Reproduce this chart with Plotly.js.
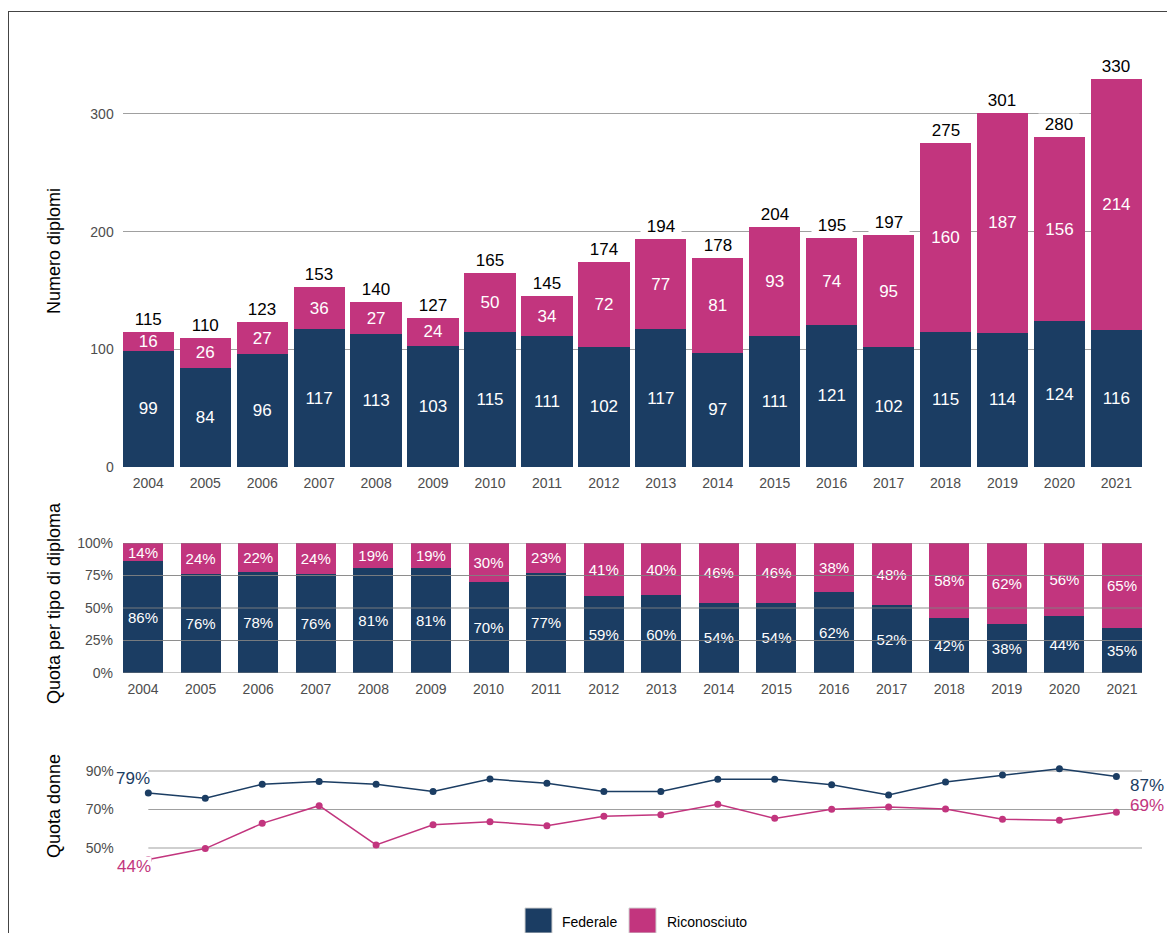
<!DOCTYPE html>
<html>
<head>
<meta charset="utf-8">
<script src="https://cdn.plot.ly/plotly-3.0.1.min.js"></script>
<style>
  html, body { margin: 0; padding: 0; background: #fff; }
  #chart { width: 1167px; height: 933px; }
</style>
</head>
<body>
<div id="chart"></div>
<script>
const years = [2004, 2005, 2006, 2007, 2008, 2009, 2010, 2011, 2012, 2013, 2014, 2015, 2016, 2017, 2018, 2019, 2020, 2021];
const federale = [99, 84, 96, 117, 113, 103, 115, 111, 102, 117, 97, 111, 121, 102, 115, 114, 124, 116];
const riconosciuto = [16, 26, 27, 36, 27, 24, 50, 34, 72, 77, 81, 93, 74, 95, 160, 187, 156, 214];
const totali = [115, 110, 123, 153, 140, 127, 165, 145, 174, 194, 178, 204, 195, 197, 275, 301, 280, 330];
const quotaFederale = [86, 76, 78, 76, 81, 81, 70, 77, 59, 60, 54, 54, 62, 52, 42, 38, 44, 35];
const quotaRiconosciuto = [14, 24, 22, 24, 19, 19, 30, 23, 41, 40, 46, 46, 38, 48, 58, 62, 56, 65];
const donneFederale = [78.6, 75.8, 83.1, 84.5, 83.1, 79.4, 85.8, 83.6, 79.4, 79.4, 85.7, 85.7, 82.9, 77.6, 84.3, 87.9, 91.2, 87.1];
const donneRiconosciuto = [44.0, 49.7, 62.8, 72.0, 51.6, 62.1, 63.7, 61.6, 66.5, 67.3, 72.7, 65.4, 70.1, 71.3, 70.3, 64.9, 64.4, 68.6];
const seriesNames = ['Federale', 'Riconosciuto'];
const yTitles = ['Numero diplomi', 'Quota per tipo di diploma', 'Quota donne'];
const ticksTop = [0, 100, 200, 300];
const ticksQuota = [0, 25, 50, 75, 100];
const ticksDonne = [50, 70, 90];

const BLUE = '#1b3d63';
const PINK = '#c2357e';
const FONT = 'Liberation Sans, Arial, sans-serif';
const W = 1167, H = 933;
const px = v => v / W;
const py = v => (H - v) / H;

const traces = [
  {
    type: 'bar', x: years, y: federale, name: seriesNames[0], xaxis: 'x', yaxis: 'y',
    width: 0.9, marker: { color: BLUE, line: { width: 0 } },
    text: federale.map(String), textposition: 'inside', insidetextanchor: 'middle',
    constraintext: 'none', textangle: 0,
    textfont: { color: '#ffffff', size: 17, family: FONT }, hoverinfo: 'skip'
  },
  {
    type: 'bar', x: years, y: riconosciuto, name: seriesNames[1], xaxis: 'x', yaxis: 'y',
    width: 0.9, marker: { color: PINK, line: { width: 0 } },
    text: riconosciuto.map(String), textposition: 'inside', insidetextanchor: 'middle',
    constraintext: 'none', textangle: 0,
    textfont: { color: '#ffffff', size: 17, family: FONT }, hoverinfo: 'skip'
  },
  {
    type: 'bar', x: years, y: quotaFederale, name: seriesNames[0], xaxis: 'x2', yaxis: 'y2',
    width: 0.695, marker: { color: BLUE, line: { width: 0 } },
    text: quotaFederale.map(v => v + '%'), textposition: 'inside', insidetextanchor: 'middle',
    constraintext: 'none', textangle: 0,
    textfont: { color: '#ffffff', size: 15, family: FONT }, hoverinfo: 'skip'
  },
  {
    type: 'bar', x: years, y: quotaRiconosciuto, name: seriesNames[1], xaxis: 'x2', yaxis: 'y2',
    width: 0.695, marker: { color: PINK, line: { width: 0 } },
    text: quotaRiconosciuto.map(v => v + '%'), textposition: 'inside', insidetextanchor: 'middle',
    constraintext: 'none', textangle: 0,
    textfont: { color: '#ffffff', size: 15, family: FONT }, hoverinfo: 'skip'
  },
  {
    type: 'scatter', mode: 'lines+markers', x: years, y: donneFederale, name: seriesNames[0],
    xaxis: 'x3', yaxis: 'y3', line: { color: BLUE, width: 1.5 },
    marker: { color: BLUE, size: 7 }, cliponaxis: false, hoverinfo: 'skip'
  },
  {
    type: 'scatter', mode: 'lines+markers', x: years, y: donneRiconosciuto, name: seriesNames[1],
    xaxis: 'x3', yaxis: 'y3', line: { color: PINK, width: 1.5 },
    marker: { color: PINK, size: 7 }, cliponaxis: false, hoverinfo: 'skip'
  }
];

const tickFont = { family: FONT, size: 14, color: '#4d4d4d' };
const xBase = {
  tickmode: 'array', tickvals: years, ticktext: years.map(String),
  showgrid: false, zeroline: false, showline: false, ticks: '',
  tickfont: tickFont, ticklabelstandoff: 6, fixedrange: true
};

const annotations = [];
years.forEach((yr, i) => {
  annotations.push({
    x: yr, y: totali[i], xref: 'x', yref: 'y',
    text: '\u00a0' + totali[i] + '\u00a0', showarrow: false,
    yanchor: 'bottom', xanchor: 'center', yshift: 1,
    bgcolor: '#ffffff', borderpad: 1,
    font: { family: FONT, size: 17, color: '#000000' }
  });
});
const n = years.length - 1;
annotations.push(
  { x: years[0], y: donneFederale[0], xref: 'x3', yref: 'y3', text: Math.round(donneFederale[0]) + '%',
    showarrow: false, xanchor: 'right', yanchor: 'middle', xshift: 4, yshift: 14,
    font: { family: FONT, size: 17, color: BLUE } },
  { x: years[0], y: donneRiconosciuto[0], xref: 'x3', yref: 'y3', text: Math.round(donneRiconosciuto[0]) + '%',
    showarrow: false, xanchor: 'right', yanchor: 'middle', xshift: 4, yshift: -7, bgcolor: '#ffffff', borderpad: 0,
    font: { family: FONT, size: 17, color: PINK } },
  { x: years[n], y: donneFederale[n], xref: 'x3', yref: 'y3', text: Math.round(donneFederale[n]) + '%',
    showarrow: false, xanchor: 'left', yanchor: 'middle', xshift: 12, yshift: -9,
    font: { family: FONT, size: 17, color: BLUE } },
  { x: years[n], y: donneRiconosciuto[n], xref: 'x3', yref: 'y3', text: Math.round(donneRiconosciuto[n]) + '%',
    showarrow: false, xanchor: 'left', yanchor: 'middle', xshift: 12, yshift: 7,
    font: { family: FONT, size: 17, color: PINK } }
);
[[yTitles[0], 251], [yTitles[1], 603], [yTitles[2], 806]].forEach(([t, yc]) => {
  annotations.push({
    xref: 'paper', yref: 'paper', x: px(54), y: py(yc), text: t, textangle: -90,
    showarrow: false, xanchor: 'center', yanchor: 'middle',
    font: { family: FONT, size: 18, color: '#000000' }
  });
});
annotations.push(
  { xref: 'paper', yref: 'paper', x: px(560), y: py(922), text: seriesNames[0], showarrow: false,
    xanchor: 'left', yanchor: 'middle', font: { family: FONT, size: 14, color: '#000000' } },
  { xref: 'paper', yref: 'paper', x: px(665), y: py(922), text: seriesNames[1], showarrow: false,
    xanchor: 'left', yanchor: 'middle', font: { family: FONT, size: 14, color: '#000000' } }
);

const shapes = [];
shapes.push(
  { type: 'line', xref: 'paper', yref: 'paper', x0: px(8), x1: 1, y0: py(11.5), y1: py(11.5), line: { color: '#444', width: 1 } },
  { type: 'line', xref: 'paper', yref: 'paper', x0: px(8.5), x1: px(8.5), y0: py(11.5), y1: 0, line: { color: '#444', width: 1 } }
);
ticksQuota.forEach(v => {
  shapes.push({ type: 'line', xref: 'x2 domain', yref: 'y2', x0: 0, x1: 1, y0: v, y1: v,
    layer: 'above', line: { color: 'rgba(130,130,130,0.9)', width: 1 } });
});
ticksDonne.forEach(v => {
  shapes.push({ type: 'line', xref: 'x3', yref: 'y3', x0: years[0], x1: years[n] + 0.5, y0: v, y1: v,
    layer: 'below', line: { color: '#a0a0a0', width: 1.2 } });
});
shapes.push(
  { type: 'rect', xref: 'paper', yref: 'paper', x0: px(525), x1: px(552), y0: 0, y1: py(908),
    fillcolor: BLUE, line: { color: '#d0d0d0', width: 1 } },
  { type: 'rect', xref: 'paper', yref: 'paper', x0: px(629), x1: px(656), y0: 0, y1: py(908),
    fillcolor: PINK, line: { color: '#d0d0d0', width: 1 } }
);

const layout = {
  width: W, height: H,
  margin: { l: 0, r: 0, t: 0, b: 0 },
  paper_bgcolor: '#ffffff', plot_bgcolor: '#ffffff',
  barmode: 'stack', showlegend: false,
  font: { family: FONT },
  xaxis: Object.assign({}, xBase, { domain: [px(122.7), px(1142)], range: [2003.55, 2021.45], anchor: 'y' }),
  yaxis: {
    domain: [py(467), py(61)], range: [0, 345],
    tickmode: 'array', tickvals: ticksTop, ticktext: ticksTop.map(String),
    showgrid: true, gridcolor: '#a0a0a0', gridwidth: 1, zeroline: false, showline: false, ticks: '',
    tickfont: tickFont, ticklabelstandoff: 8, anchor: 'x', fixedrange: true
  },
  xaxis2: Object.assign({}, xBase, { domain: [px(123), px(1142)], range: [2003.6525, 2021.3475], anchor: 'y2' }),
  yaxis2: {
    domain: [py(673), py(543)], range: [0, 100],
    tickmode: 'array', tickvals: ticksQuota, ticktext: ticksQuota.map(v => v + '%'),
    showgrid: false, zeroline: false, showline: false, ticks: '',
    tickfont: tickFont, ticklabelstandoff: 9, anchor: 'x2', fixedrange: true
  },
  xaxis3: {
    domain: [px(122.7), px(1142)], range: [2003.55, 2021.45], anchor: 'y3',
    showgrid: false, zeroline: false, showline: false, showticklabels: false, ticks: '', fixedrange: true
  },
  yaxis3: {
    domain: [py(871.1), py(761.4)], range: [38, 95],
    tickmode: 'array', tickvals: ticksDonne, ticktext: ticksDonne.map(v => v + '%'),
    showgrid: false, zeroline: false, showline: false, ticks: '',
    tickfont: tickFont, ticklabelstandoff: 8, anchor: 'x3', fixedrange: true
  },
  annotations: annotations,
  shapes: shapes
};

Plotly.newPlot('chart', traces, layout, { displayModeBar: false, staticPlot: true });
</script>
</body>
</html>
